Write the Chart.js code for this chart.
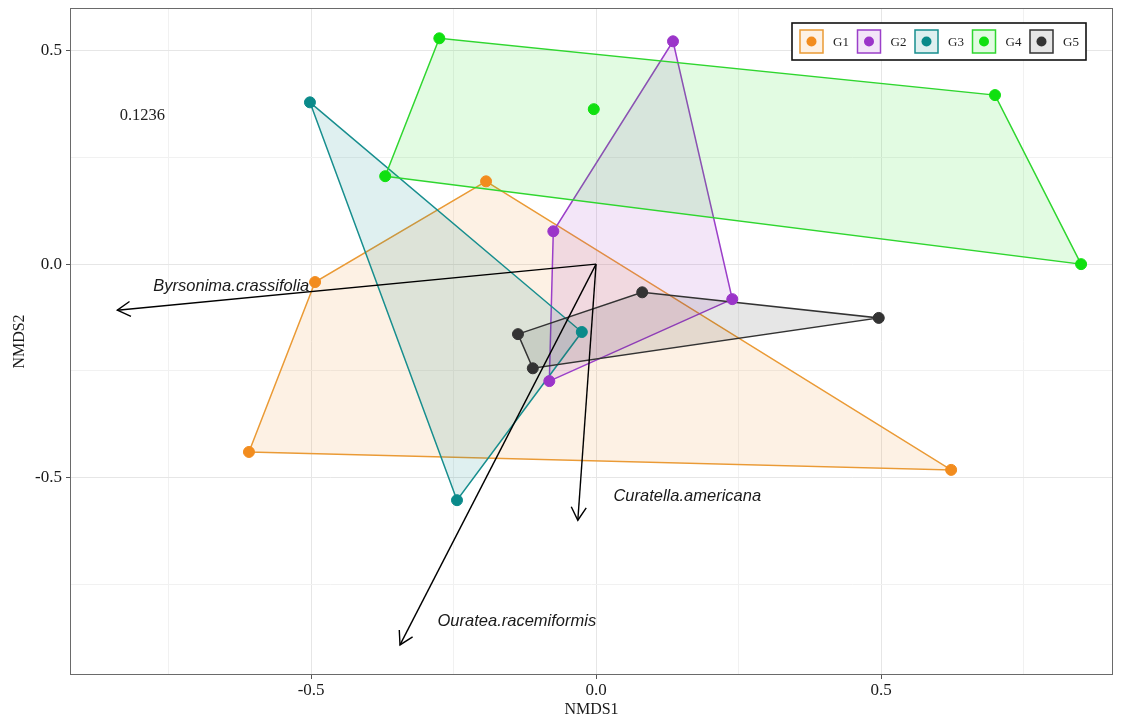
<!DOCTYPE html>
<html>
<head>
<meta charset="utf-8">
<script src="https://cdn.jsdelivr.net/npm/chart.js@4.4.1/dist/chart.umd.min.js"></script>
<style>
  html, body { margin: 0; padding: 0; background: #fff; }
</style>
</head>
<body>
<canvas id="nmds" width="1124" height="714"></canvas>
<script>
// site scores per group (NMDS1, NMDS2)
const groupNames = ["G1", "G2", "G3", "G4", "G5"];
const g1X = [-0.193, -0.493, -0.609, 0.623];
const g1Y = [0.194, -0.042, -0.440, -0.482];
const g2X = [0.135, -0.075, 0.239, -0.082];
const g2Y = [0.522, 0.077, -0.082, -0.274];
const g3X = [-0.502, -0.025, -0.244];
const g3Y = [0.379, -0.159, -0.553];
const g4X = [-0.275, 0.700, 0.851, -0.370, -0.004];
const g4Y = [0.529, 0.396, 0.000, 0.206, 0.363];
const g5X = [0.081, 0.496, -0.111, -0.137];
const g5Y = [-0.066, -0.126, -0.244, -0.164];

// species vectors
const speciesNames = ["Byrsonima.crassifolia", "Curatella.americana", "Ouratea.racemiformis"];
const speciesX = [-0.840, -0.032, -0.344];
const speciesY = [-0.108, -0.600, -0.892];
const speciesLabelX = [-0.640, 0.160, -0.139];
const speciesLabelY = [-0.052, -0.544, -0.836];

const stressText = "0.1236";
const stressX = -0.796;
const stressY = 0.348;

const xTicks = [-0.75, -0.5, -0.25, 0, 0.25, 0.5, 0.75];
const yTicks = [-0.75, -0.5, -0.25, 0, 0.25, 0.5];

const colors = ["#F28C1E", "#9B35C9", "#0A8A8A", "#10E010", "#333333"];
const lineColors = ["#EA9A35", "#9B3FC9", "#178E8E", "#2FD62F", "#333333"];
const fills = ["rgba(242,140,30,0.12)", "rgba(155,53,201,0.12)", "rgba(10,138,138,0.13)",
               "rgba(16,224,16,0.12)", "rgba(51,51,51,0.12)"];

const groupsX = [g1X, g2X, g3X, g4X, g5X];
const groupsY = [g1Y, g2Y, g3Y, g4Y, g5Y];

// convex hull (monotone chain), returns closed ring
function hull(xs, ys) {
  const pts = xs.map((x, i) => ({ x: x, y: ys[i] })).sort((a, b) => a.x - b.x || a.y - b.y);
  const cross = (o, a, b) => (a.x - o.x) * (b.y - o.y) - (a.y - o.y) * (b.x - o.x);
  const lower = [], upper = [];
  for (const p of pts) {
    while (lower.length >= 2 && cross(lower[lower.length - 2], lower[lower.length - 1], p) <= 0) lower.pop();
    lower.push(p);
  }
  for (let i = pts.length - 1; i >= 0; i--) {
    const p = pts[i];
    while (upper.length >= 2 && cross(upper[upper.length - 2], upper[upper.length - 1], p) <= 0) upper.pop();
    upper.push(p);
  }
  upper.pop(); lower.pop();
  const ring = lower.concat(upper);
  ring.push(ring[0]);
  return ring;
}

const datasets = [];

// hull polygons
groupNames.forEach((g, i) => {
  datasets.push({
    type: "line",
    label: g + " hull",
    data: hull(groupsX[i], groupsY[i]),
    borderColor: lineColors[i],
    backgroundColor: fills[i],
    borderWidth: 1.5,
    fill: "shape",
    tension: 0,
    pointRadius: 0,
    order: 20 - i
  });
});

// points
groupNames.forEach((g, i) => {
  datasets.push({
    type: "scatter",
    label: g,
    data: groupsX[i].map((x, j) => ({ x: x, y: groupsY[i][j] })),
    backgroundColor: colors[i],
    borderColor: colors[i],
    pointRadius: 5.5,
    order: 10
  });
});

// species arrows
speciesNames.forEach((s, i) => {
  datasets.push({
    type: "line",
    label: s,
    data: [{ x: 0, y: 0 }, { x: speciesX[i], y: speciesY[i] }],
    borderColor: "#000",
    borderWidth: 1.4,
    pointRadius: 0,
    fill: false,
    order: 0
  });
});

const extras = {
  id: "extras",
  afterDatasetsDraw(chart) {
    const ctx = chart.ctx, xs = chart.scales.x, ys = chart.scales.y;
    ctx.save();
    // arrow heads
    ctx.strokeStyle = "#000";
    ctx.lineWidth = 1.4;
    const x0 = xs.getPixelForValue(0), y0 = ys.getPixelForValue(0);
    speciesX.forEach((sx, i) => {
      const x1 = xs.getPixelForValue(sx), y1 = ys.getPixelForValue(speciesY[i]);
      const a = Math.atan2(y1 - y0, x1 - x0), len = 15, sp = Math.PI / 6;
      ctx.beginPath();
      ctx.moveTo(x1 - len * Math.cos(a - sp), y1 - len * Math.sin(a - sp));
      ctx.lineTo(x1, y1);
      ctx.lineTo(x1 - len * Math.cos(a + sp), y1 - len * Math.sin(a + sp));
      ctx.stroke();
    });
    // species labels
    ctx.font = "italic 16.5px 'Liberation Sans', Arial, sans-serif";
    ctx.fillStyle = "#1a1a1a";
    ctx.textAlign = "center";
    ctx.textBaseline = "middle";
    speciesNames.forEach((s, i) => {
      ctx.fillText(s, xs.getPixelForValue(speciesLabelX[i]), ys.getPixelForValue(speciesLabelY[i]));
    });
    // stress value
    ctx.font = "16.5px 'Liberation Serif', 'Times New Roman', serif";
    ctx.fillStyle = "#222";
    ctx.fillText(stressText, xs.getPixelForValue(stressX), ys.getPixelForValue(stressY));
    ctx.restore();
  },
  afterDraw(chart) {
    const ctx = chart.ctx, a = chart.chartArea;
    ctx.save();
    // panel border
    ctx.strokeStyle = "#6a6a6a";
    ctx.lineWidth = 1;
    ctx.strokeRect(a.left + 0.5, a.top + 0.5, a.right - a.left - 1, a.bottom - a.top - 1);
    // legend
    const lx = 792, ly = 23, lw = 294, lh = 37;
    ctx.fillStyle = "#fff";
    ctx.fillRect(lx, ly, lw, lh);
    ctx.strokeStyle = "#111";
    ctx.lineWidth = 1.6;
    ctx.strokeRect(lx, ly, lw, lh);
    ctx.font = "13px 'Liberation Serif', 'Times New Roman', serif";
    ctx.textAlign = "left";
    ctx.textBaseline = "middle";
    groupNames.forEach((g, i) => {
      const kx = 800 + i * 57.5, ky = 30, ks = 23;
      ctx.fillStyle = "#fff";
      ctx.fillRect(kx, ky, ks, ks);
      ctx.fillStyle = fills[i];
      ctx.fillRect(kx, ky, ks, ks);
      ctx.strokeStyle = lineColors[i];
      ctx.lineWidth = 1.5;
      ctx.strokeRect(kx, ky, ks, ks);
      ctx.fillStyle = colors[i];
      ctx.beginPath();
      ctx.arc(kx + ks / 2, ky + ks / 2, 5, 0, Math.PI * 2);
      ctx.fill();
      ctx.fillStyle = "#222";
      ctx.fillText(g, kx + 33, ky + ks / 2 + 1);
    });
    ctx.restore();
  }
};

const isMajor = v => Math.abs(Math.round(v * 2) - v * 2) < 1e-6;
const tickFont = { family: "'Liberation Serif', 'Times New Roman', serif", size: 17 };

new Chart(document.getElementById("nmds"), {
  type: "scatter",
  data: { datasets: datasets },
  options: {
    responsive: false,
    animation: false,
    devicePixelRatio: 1,
    layout: { padding: { top: 8, right: 11, left: 0, bottom: 0 } },
    plugins: { legend: { display: false }, tooltip: { enabled: false } },
    scales: {
      x: {
        type: "linear",
        min: -0.923,
        max: 0.907,
        afterBuildTicks: s => { s.ticks = xTicks.map(v => ({ value: v })); },
        afterFit: s => { s.height = 39; s.paddingLeft = 0; s.paddingRight = 0; },
        border: { display: false },
        grid: {
          color: c => isMajor(c.tick.value) ? "#e6e6e6" : "#f1f1f1",
          tickColor: c => isMajor(c.tick.value) ? "#555" : "rgba(0,0,0,0)",
          tickLength: 4
        },
        ticks: {
          font: tickFont,
          color: "#1a1a1a",
          padding: 1,
          maxRotation: 0,
          autoSkip: false,
          callback: v => isMajor(v) ? v.toFixed(1) : ""
        },
        title: {
          display: true,
          text: "NMDS1",
          font: { family: "'Liberation Serif', 'Times New Roman', serif", size: 16 },
          color: "#1a1a1a",
          padding: { top: 0, bottom: -5 }
        }
      },
      y: {
        type: "linear",
        min: -0.9625,
        max: 0.6,
        afterBuildTicks: s => { s.ticks = yTicks.map(v => ({ value: v })); },
        afterFit: s => { s.width = 70; s.paddingTop = 0; s.paddingBottom = 0; },
        border: { display: false },
        grid: {
          color: c => isMajor(c.tick.value) ? "#e6e6e6" : "#f1f1f1",
          tickColor: c => isMajor(c.tick.value) ? "#555" : "rgba(0,0,0,0)",
          tickLength: 4
        },
        ticks: {
          font: tickFont,
          color: "#1a1a1a",
          padding: 4,
          autoSkip: false,
          callback: v => isMajor(v) ? v.toFixed(1) : ""
        },
        title: {
          display: true,
          text: "NMDS2",
          font: { family: "'Liberation Serif', 'Times New Roman', serif", size: 16 },
          color: "#1a1a1a",
          padding: { top: 10, bottom: 0 }
        }
      }
    }
  },
  plugins: [extras]
});
</script>
</body>
</html>
